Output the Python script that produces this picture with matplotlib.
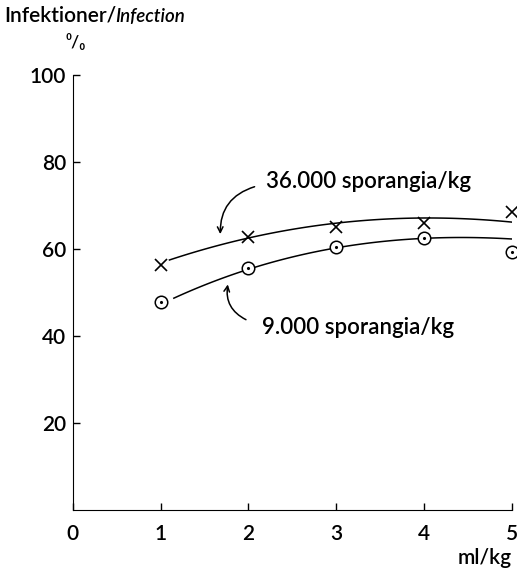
import numpy as np
import matplotlib.pyplot as plt

plt.rcParams['font.family'] = ['Lato', 'DejaVu Sans']
W = 'semibold'

# observations
dose = [1, 2, 3, 4, 5]
inf_36000 = [56.3, 62.8, 65.1, 66.0, 68.5]
inf_9000 = [47.8, 55.6, 60.5, 62.5, 59.3]

# hand-drawn smooth curves, read at a few doses
curve_x_hi = [1.1, 2, 3, 4, 5]
curve_hi = [57.5, 62.5, 66.0, 67.1, 66.2]
curve_x_lo = [1.15, 2, 3, 4, 5]
curve_lo = [48.7, 55.4, 60.2, 62.5, 62.3]

xticks = [0, 1, 2, 3, 4, 5]
yticks = [20, 40, 60, 80, 100]

fig = plt.figure(figsize=(5.17, 5.72), dpi=100)
ax = fig.add_axes([0.141, 0.108, 0.849, 0.761])

# smooth curves through the read values
for cx, cy in [(curve_x_hi, curve_hi), (curve_x_lo, curve_lo)]:
    p = np.polyfit(cx, cy, 3)
    xs = np.linspace(cx[0], cx[-1], 100)
    ax.plot(xs, np.polyval(p, xs), color='black', lw=1.1, zorder=2)

ax.plot(dose, inf_36000, 'x', color='black', ms=9, mew=1.2, zorder=3, clip_on=False)
ax.plot(dose, inf_9000, 'o', mfc='white', mec='black', ms=9, mew=1.1, zorder=3, clip_on=False)
ax.plot(dose, inf_9000, '.', color='black', ms=2.5, zorder=4, clip_on=False)

ax.set_xlim(0, 5)
ax.set_ylim(0, 100)
ax.set_xticks(xticks)
ax.set_yticks(yticks)
ax.spines['top'].set_visible(False)
ax.spines['right'].set_visible(False)
ax.tick_params(direction='in', length=5, width=1, labelsize=15, pad=5)
ax.tick_params(axis='x', pad=10)
for lab in ax.get_xticklabels() + ax.get_yticklabels():
    lab.set_fontweight(W)

# labels
fig.text(0.008, 0.973, 'Infektioner/', fontsize=15, fontweight=W, va='center', ha='left')
fig.text(0.222, 0.971, 'Infection', fontsize=13.5, style='italic', fontweight=W,
         va='center', ha='left')
fig.text(0.147, 0.926, '⁰/₀', fontsize=13, fontweight=W, va='center', ha='center')
ax.text(5, -11, 'ml/kg', fontsize=15, fontweight=W, ha='right', va='center')

ax.text(2.2, 75.5, '36.000 sporangia/kg', fontsize=16, fontweight=W, va='center', ha='left')
ax.text(2.15, 42.0, '9.000 sporangia/kg', fontsize=16, fontweight=W, va='center', ha='left')

ax.annotate('', xy=(1.68, 62.8), xytext=(2.1, 74.5),
            arrowprops=dict(arrowstyle='->', color='black', lw=1.1,
                            connectionstyle='arc3,rad=0.4'))
ax.annotate('', xy=(1.77, 52.5), xytext=(2.0, 43.5),
            arrowprops=dict(arrowstyle='->', color='black', lw=1.1,
                            connectionstyle='arc3,rad=-0.4'))

fig.savefig('out.png', dpi=100)
